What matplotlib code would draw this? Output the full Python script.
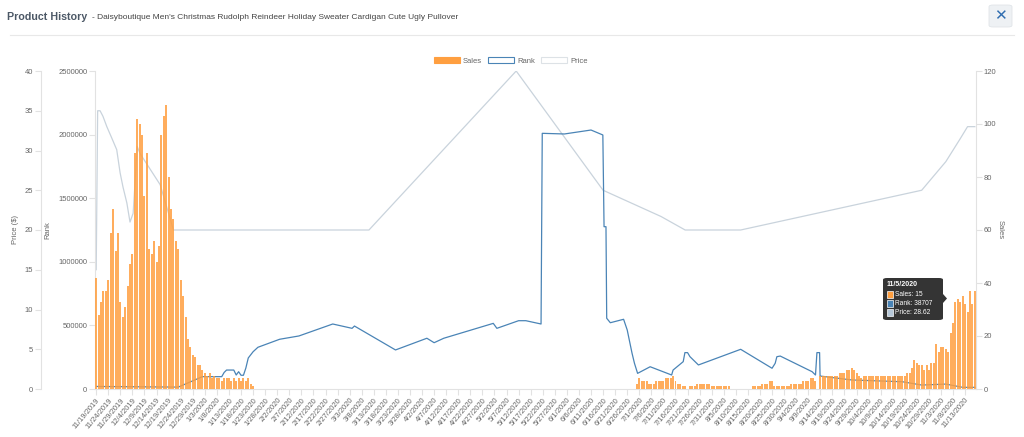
import numpy as np
import pandas as pd
import matplotlib
matplotlib.use('Agg')
import matplotlib.pyplot as plt
from matplotlib.patches import Patch, FancyBboxPatch, Rectangle, Polygon
from matplotlib.lines import Line2D
from matplotlib.ticker import FuncFormatter, MultipleLocator

plt.rcParams['font.family'] = ['Liberation Sans', 'DejaVu Sans']

# ----------------------------------------------------------------------
#  Data
# ----------------------------------------------------------------------
start_date = '2019-11-19'
n_days = 365

# daily sales, 11/19/2019 .. 11/17/2020
sales = ([42, 28, 33, 37, 37, 41, 59, 68, 52, 59,
          33, 27, 31, 39, 47, 51, 89, 102, 100, 96,
          73, 89, 53, 51, 56, 48, 54, 96, 103, 107,
          80, 68, 64, 56, 53, 41, 35, 27, 19, 16,
          13, 12, 9, 9, 7, 6, 5, 6, 4, 5,
          4, 4, 3, 4, 4, 4, 3, 4, 3, 4,
          3, 4, 3, 4, 2, 1]
         + [0] * 158
         + [2, 4, 3, 3, 3, 2, 2, 2, 3, 3,
            3, 3, 4, 4, 4, 5, 3, 2, 2, 1,
            1, 0, 1, 1, 1, 2, 2, 2, 2, 2,
            2, 1, 1, 1, 1, 1, 1, 1, 1, 0,
            0, 0, 0, 0, 0, 0, 0, 0, 1, 1,
            1, 1, 2, 2, 2, 3, 3, 1, 1, 1,
            1, 1, 1, 1, 2, 2, 2, 2, 2, 3,
            3, 3, 4, 4, 3, 0, 5, 5, 5, 5,
            5, 5, 5, 5, 6, 6, 6, 7, 7, 8,
            7, 6, 5, 4, 5, 5, 5, 5, 5, 5,
            5, 5, 5, 5, 5, 5, 5, 5, 5, 5,
            5, 5, 6, 6, 8, 11, 10, 9, 9, 7,
            9, 7, 10, 10, 17, 14, 16, 16, 15, 14,
            21, 25, 33, 34, 33, 35, 32, 29, 37,
            32, 37])

rank_day = [0, 34, 44, 52, 53, 54, 57, 58, 59, 60, 61, 62, 63, 65, 67, 76, 84,
            98, 106, 107, 124, 137, 140, 144, 164.5, 166, 175, 178, 184.3, 184.8,
            194, 205, 209.9, 210.4, 211.2, 211.5, 213, 218.5, 220, 221, 222, 223,
            224.3, 229.5, 238.4, 239, 243.2, 243.9, 245, 246, 249.5, 267, 280,
            281.3, 282, 283.4, 296.6, 298, 298.6, 299.7, 299.9, 302, 313, 334,
            342, 352, 359, 364]
rank_value = [20000, 15000, 97000, 97000, 130000, 149000, 149000, 110000, 136000,
              108000, 108000, 165000, 244000, 293000, 328000, 391000, 417000,
              511000, 477000, 495000, 307000, 399000, 364000, 399000, 516000,
              477000, 537000, 537000, 511000, 2010000,
              2005000, 2036000, 1997000, 1276000, 1276000, 556000, 521000, 548000,
              464000, 372000, 281000, 202000,
              123000, 175000, 110000, 149000, 215000, 286000, 286000, 254000,
              189000, 312000, 163000,
              202000, 254000, 259000, 136000, 110000, 286000, 286000, 102000,
              97000, 71000, 57000,
              31000, 38707, 13000, 13000]

price_day = [0, 0.6, 1.6, 2.8, 4.4, 6.4, 8.5, 9.9, 11.1, 12.7, 14, 15.3, 17,
             18.2, 26.5, 32, 113, 174, 210, 234, 244, 267, 342, 352, 358, 361, 364]
price_value = [15.0, 35.0, 35.0, 34.3, 33.0, 31.6, 30.1, 27.2, 25.4, 23.4, 21.0,
               22.1, 30.5, 29.6, 25.7, 20.0, 20.0, 40.0, 25.0, 21.7, 20.0, 20.0,
               25.0, 28.6, 31.5, 33.0, 33.0]

tooltip_title = '11/5/2020'
tooltip_lines = ['Sales: 15', 'Rank: 38707', 'Price: 28.62']

dates = pd.date_range(start_date, periods=n_days, freq='D')
date_labels = ['%d/%d/%d' % (d.month, d.day, d.year) for d in dates]
days = np.arange(n_days)

# ----------------------------------------------------------------------
#  Style
# ----------------------------------------------------------------------
W, H = 1024.0, 437.0
c_sales = '#ff9f40'
c_rank = '#4a84b6'
c_price = '#c9d3dc'
c_axis = '#e2e2e2'
c_text = '#666666'

fig = plt.figure(figsize=(10.24, 4.37), dpi=100)
fig.patch.set_facecolor('white')

ax_price = fig.add_axes([95 / W, 1 - 389 / H, 881 / W, 318 / H])
ax_rank = ax_price.twinx()
ax_sales = ax_price.twinx()

# lines first, bars on top
ax_price.plot(price_day, price_value, color=c_price, lw=0.9)
ax_rank.plot(rank_day, rank_value, color=c_rank, lw=0.9)
ax_sales.bar(days, sales, width=0.82, color=c_sales, alpha=0.85, linewidth=0)

ax_price.set_xlim(-0.5, n_days - 0.5)
ax_price.set_ylim(0, 40)
ax_rank.set_ylim(0, 2500000)
ax_sales.set_ylim(0, 120)

ax_price.yaxis.set_major_locator(MultipleLocator(5))
ax_rank.yaxis.set_major_locator(MultipleLocator(500000))
ax_rank.yaxis.set_major_formatter(FuncFormatter(lambda v, p: '%d' % v))
ax_sales.yaxis.set_major_locator(MultipleLocator(20))

ax_price.set_xticks(days[::5])
ax_price.set_xticklabels(date_labels[::5], rotation=50, ha='right',
                         rotation_mode='anchor')

ax_rank.yaxis.tick_left()
ax_rank.yaxis.set_label_position('left')

for a in (ax_price, ax_rank, ax_sales):
    for s in a.spines.values():
        s.set_visible(False)
        s.set_color(c_axis)
        s.set_linewidth(0.8)
    a.tick_params(labelsize=5.5, labelcolor=c_text, color=c_axis,
                  length=4, width=0.8, pad=1.5)

ax_price.spines['left'].set_visible(True)
ax_price.spines['left'].set_position(('outward', 39))
ax_price.spines['bottom'].set_visible(True)
ax_rank.spines['left'].set_visible(True)
ax_sales.spines['right'].set_visible(True)

ax_price.set_ylabel('Price ($)', fontsize=5.5, color=c_text)
ax_price.yaxis.set_label_coords(-0.086, 0.5)
ax_rank.set_ylabel('Rank', fontsize=5.5, color=c_text)
ax_rank.yaxis.set_label_coords(-0.049, 0.5)
ax_sales.set_ylabel('Sales', fontsize=5.5, color=c_text, rotation=270)
ax_sales.yaxis.set_label_coords(1.031, 0.5)

# legend
handles = [Patch(facecolor=c_sales, edgecolor=c_sales, lw=0.8),
           Patch(facecolor='white', edgecolor=c_rank, lw=0.8),
           Patch(facecolor='white', edgecolor='#dde2e6', lw=0.8)]
leg = fig.legend(handles, ['Sales', 'Rank', 'Price'], loc='center',
                 bbox_to_anchor=(511 / W, 1 - 61 / H), ncol=3, frameon=False,
                 fontsize=5.5, handlelength=3.4, handleheight=0.9,
                 handletextpad=0.4, columnspacing=0.8)
for t in leg.get_texts():
    t.set_color(c_text)

# header
fig.text(7 / W, 1 - 17 / H, 'Product History', fontsize=7.7, weight='bold',
         color='#4c5866', va='center')
fig.text(92 / W, 1 - 17.5 / H,
         "- Daisyboutique Men's Christmas Rudolph Reindeer Holiday Sweater "
         "Cardigan Cute Ugly Pullover", fontsize=6, color='#444444', va='center')
fig.add_artist(Line2D([10 / W, 1014 / W], [1 - 35 / H] * 2, color='#e8e8e8', lw=0.8))
fig.add_artist(FancyBboxPatch((989 / W, 1 - 27 / H), 23 / W, 22 / H,
                              boxstyle='round,pad=0,rounding_size=0.004',
                              transform=fig.transFigure, facecolor='#eef1f4',
                              edgecolor='#e0e4e8', lw=0.6))
fig.text(1000.5 / W, 1 - 16 / H, '\u2715', fontsize=11, weight='bold',
         color='#2f6db0', ha='center', va='center', family='DejaVu Sans')

# hover tooltip
fig.add_artist(FancyBboxPatch((883 / W, 1 - 320 / H), 60 / W, 42 / H,
                              boxstyle='round,pad=0,rounding_size=0.004',
                              transform=fig.transFigure, facecolor='#1e1e1e',
                              edgecolor='none', alpha=0.9))
fig.add_artist(Polygon([[943 / W, 1 - 294 / H], [947 / W, 1 - 298.5 / H],
                        [943 / W, 1 - 303 / H]], closed=True,
                       transform=fig.transFigure, facecolor='#1e1e1e',
                       edgecolor='none', alpha=0.9))
fig.text(886.5 / W, 1 - 284.5 / H, tooltip_title, fontsize=5, weight='bold',
         color='white', va='center')
swatch_colors = [c_sales, c_rank, '#b5c7d8']
for i, (txt, col) in enumerate(zip(tooltip_lines, swatch_colors)):
    yc = 294.3 + 9 * i
    fig.add_artist(Rectangle((886.7 / W, 1 - (yc + 3.3) / H), 6.6 / W, 6.6 / H,
                             transform=fig.transFigure, facecolor=col,
                             edgecolor='white', lw=0.5))
    fig.text(895 / W, 1 - yc / H, txt, fontsize=4.8, color='white', va='center')

fig.savefig('out.png', dpi=100, facecolor='white')
